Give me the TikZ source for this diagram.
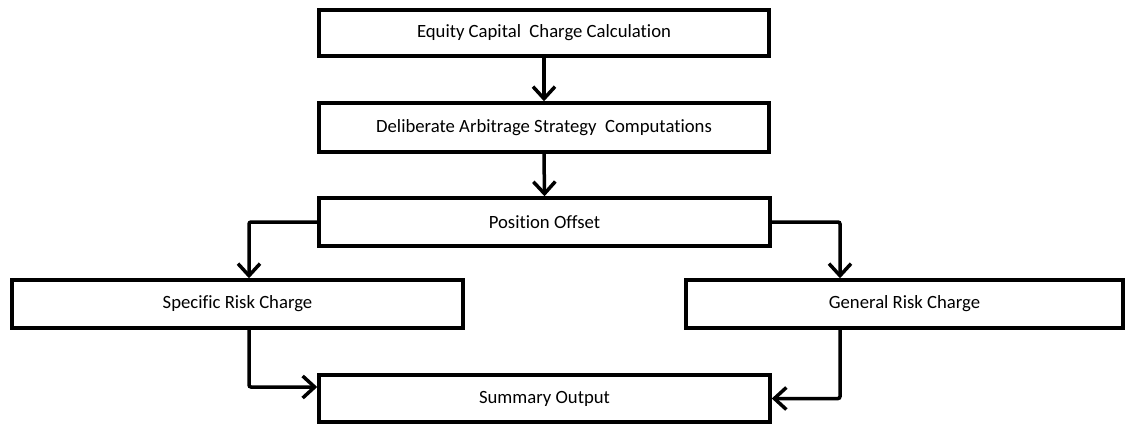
\documentclass[tikz,border=0pt]{standalone}
\usepackage{fontspec}
\setmainfont[Ligatures={NoCommon}]{Carlito}
\usetikzlibrary{arrows.meta}
\begin{document}
\begin{tikzpicture}[x=1pt,y=-1pt,
  box/.style={draw=black,line width=3.5pt,rectangle,fill=white,inner sep=0pt,
    font=\fontsize{18.7}{22}\selectfont,text=black},
  conn/.style={line width=3.5pt,-{Straight Barb[length=12pt,width=22pt,line width=3.5pt]},rounded corners=2pt}]
\useasboundingbox[fill=white] (0,0) rectangle (1126,424);
\node[box,minimum width=450pt,minimum height=46pt] (b1) at (544,33) {Equity Capital\ \ Charge Calculation};
\node[box,minimum width=450pt,minimum height=49pt] (b2) at (544,127.5) {Deliberate Arbitrage Strategy\ \ Computations};
\node[box,minimum width=451pt,minimum height=48pt] (b3) at (544.5,222) {Position Offset};
\node[box,minimum width=451pt,minimum height=48pt] (b4) at (237.5,304) {Specific Risk Charge};
\node[box,minimum width=437pt,minimum height=48pt] (b5) at (904.5,304) {General Risk Charge};
\node[box,minimum width=451pt,minimum height=47pt] (b6) at (544.5,398.5) {Summary Output};
\draw[conn] (b1.south) -- (b2.north);
\draw[conn] (b2.south) -- (b3.north);
\draw[conn] (b3.west) -| ([xshift=11.5pt]b4.north);
\draw[conn] (b3.east) -| ([xshift=-64.5pt]b5.north);
\draw[conn] ([xshift=11.5pt]b4.south) |- ([yshift=11.5pt]b6.west);
\draw[conn] ([xshift=-64.5pt]b5.south) |- (b6.east);
\end{tikzpicture}
\end{document}
